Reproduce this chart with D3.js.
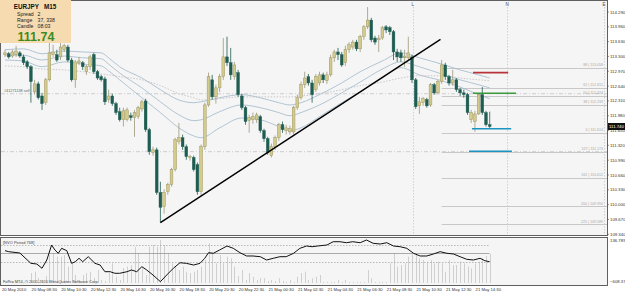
<!DOCTYPE html>
<html>
<head>
<meta charset="utf-8">
<script src="https://cdn.jsdelivr.net/npm/d3@7"></script>
<style>
body { margin: 0; background: #fff; }
svg { display: block; font-family: "Liberation Sans", Arial, sans-serif; }
</style>
</head>
<body>
<div id="chart"></div>
<script>
// EURJPY M15, one candle per row: [open, high, low, close]
const candles = [
[113.34,113.45,113.29,113.38],[113.36,113.40,113.25,113.29],[113.31,113.45,113.27,113.40],[113.34,113.54,113.29,113.42],
[113.38,113.42,113.27,113.31],[113.29,113.34,113.11,113.16],[113.18,113.22,113.02,113.07],[113.07,113.11,112.27,112.74],
[112.51,112.78,112.45,112.69],[112.69,112.74,112.34,112.38],[112.42,112.49,112.11,112.25],[112.27,112.82,112.22,112.78],
[112.78,113.60,112.74,113.38],[113.34,113.56,113.29,113.40],[113.34,113.45,113.18,113.22],[113.29,113.60,113.22,113.51],
[113.45,113.58,113.40,113.54],[113.51,113.56,113.18,113.22],[113.22,113.27,112.74,112.78],[112.78,113.22,112.60,113.18],
[113.16,113.29,113.11,113.20],[113.16,113.20,113.00,113.07],[112.96,113.11,112.89,113.07],[113.07,113.34,113.00,113.29],
[113.34,113.38,112.91,112.96],[112.96,113.00,112.78,112.82],[112.85,112.89,112.74,112.78],[112.80,112.85,112.22,112.29],
[112.34,112.56,112.27,112.42],[112.42,112.47,112.20,112.25],[112.25,112.29,112.00,112.05],[112.07,112.16,111.85,111.89],
[111.89,112.16,111.74,112.09],[111.89,112.16,111.85,112.11],[111.98,112.05,111.87,111.94],[111.94,112.11,111.51,112.05],
[111.96,112.20,111.91,112.16],[112.13,112.34,112.07,112.29],[112.31,112.36,111.62,111.67],[111.67,111.71,111.11,111.18],
[111.16,111.29,111.09,111.22],[111.22,111.27,110.22,110.27],[110.27,110.51,109.60,109.94],[109.96,110.34,109.80,110.27],
[110.29,110.49,110.22,110.45],[110.45,110.82,110.40,110.78],[110.78,111.49,110.74,111.45],[111.40,111.82,111.34,111.49],
[111.49,111.56,111.22,111.29],[111.29,111.34,111.00,111.07],[111.05,111.11,110.98,111.07],[111.05,111.09,110.74,110.78],
[110.89,110.94,110.22,110.29],[110.29,111.34,110.20,111.29],[111.29,112.27,111.22,112.22],[112.22,112.94,112.18,112.85],
[112.78,112.89,112.34,112.40],[112.40,112.67,112.25,112.60],[112.60,112.91,112.51,112.85],[112.85,113.71,112.78,113.29],
[113.29,113.74,113.09,113.16],[113.16,113.49,112.78,112.89],[112.85,113.18,112.78,113.11],[112.94,113.00,112.40,112.45],
[112.42,112.47,112.11,112.16],[112.16,112.20,111.78,111.85],[111.87,112.00,111.60,111.94],[111.89,112.05,111.80,111.96],
[111.89,112.05,111.82,112.00],[111.96,112.00,111.60,111.65],[111.65,111.69,111.40,111.47],[111.47,111.51,111.11,111.16],
[111.09,111.36,111.05,111.29],[111.29,111.54,111.22,111.49],[111.49,111.82,111.42,111.78],[111.78,111.85,111.60,111.67],
[111.65,111.78,111.56,111.71],[111.62,111.76,111.56,111.69],[111.62,112.20,111.56,112.16],[112.16,112.45,112.11,112.38],
[112.38,112.74,112.34,112.67],[112.67,112.96,112.60,112.82],[112.85,112.91,112.65,112.71],[112.71,112.78,112.27,112.45],
[112.56,112.91,112.51,112.85],[112.71,112.96,112.65,112.89],[112.89,112.94,112.71,112.78],[112.76,112.96,112.69,112.89],
[112.89,113.34,112.85,113.27],[113.27,113.45,113.18,113.40],[113.40,113.49,113.22,113.34],[113.34,113.40,113.07,113.11],
[113.16,113.54,113.09,113.45],[113.45,113.62,113.38,113.56],[113.51,113.67,113.45,113.62],[113.62,113.67,113.42,113.47],
[113.47,113.78,113.40,113.74],[113.74,114.00,113.67,113.96],[113.96,114.40,113.91,114.11],[114.11,114.16,113.62,113.67],
[113.71,113.76,113.56,113.62],[113.67,113.78,113.40,113.71],[113.71,113.98,113.67,113.94],[113.96,114.00,113.82,113.89],
[113.94,113.98,113.78,113.85],[113.85,113.89,113.22,113.40],[113.40,113.47,113.18,113.29],[113.38,113.45,113.18,113.27],
[113.27,113.45,113.07,113.31],[113.27,113.74,113.22,113.38],[113.29,113.34,112.71,112.78],[112.78,112.82,112.13,112.18],
[112.20,112.40,112.02,112.29],[112.27,112.40,112.20,112.36],[112.34,112.38,112.16,112.20],[112.22,112.71,112.18,112.67],
[112.67,112.71,112.45,112.49],[112.49,112.78,112.45,112.74],[112.74,113.22,112.69,113.11],[113.11,113.16,112.78,112.85],
[112.85,112.89,112.65,112.71],[112.71,113.00,112.65,112.78],[112.78,112.82,112.51,112.56],[112.56,112.60,112.42,112.49],
[112.49,112.56,112.38,112.45],[112.45,112.49,112.00,112.05],[111.89,112.11,111.82,112.05],[111.85,112.09,111.62,112.02],
[112.02,112.49,112.00,112.45],[112.45,112.62,112.00,112.05],[112.05,112.09,111.74,111.78],[111.78,112.07,111.71,111.74]
]

// moving average envelope, read at these bar indexes
const maIdx = [0,5,10,16,21,26,28,31,37,42,47,51,53,58,64,69,74,77,80,85,91,96,102,107,112,118,123,128,131]
const maUpper = [113.45,113.47,113.36,113.42,113.40,113.38,113.27,113.07,112.82,112.56,112.33,112.27,112.29,112.38,112.45,112.38,112.27,112.22,112.27,112.45,112.71,112.96,113.20,113.38,113.27,113.13,113.00,112.89,112.82]
const maMid = [113.33,113.33,113.22,113.31,113.27,113.25,113.13,112.93,112.60,112.29,112.00,111.87,111.89,112.07,112.22,112.16,112.05,111.98,112.05,112.22,112.49,112.73,113.02,113.18,113.07,112.91,112.78,112.67,112.60]
const maLow = [113.22,113.20,113.07,113.18,113.13,113.09,112.98,112.78,112.38,112.05,111.71,111.53,111.49,111.71,111.93,111.89,111.74,111.65,111.71,111.96,112.27,112.51,112.82,113.05,112.89,112.76,112.62,112.45,112.36]
const maSlow = [113.09,113.07,113.02,113.00,112.96,112.91,112.89,112.85,112.78,112.65,112.47,112.38,112.33,112.36,112.40,112.40,112.40,112.40,112.42,112.47,112.56,112.65,112.73,112.82,112.87,112.87,112.82,112.78,112.76]

// NVO indicator line [bar, value] and histogram per bar
const nvoLine = [[0,-61],[1,-78],[4,-100],[7,-275],[8.6,-287],[10,-359],[11.3,-219],[12.6,35],[13.5,-50],[14.4,-105],
[15.3,-21],[16.7,-61],[18,-275],[19,-248],[20,-190],[21,-248],[22.5,-163],[24.3,-275],[25.7,-304],[27,-417],[28.4,-417],
[29.7,-444],[31,-444],[33,-417],[34.2,-388],[35.6,-417],[37,-332],[38.3,-388],[40,-473],[42,-586],[43.7,-473],[45.5,-359],
[47.3,-265],[49,-275],[51,-304],[52.7,-275],[54,-190],[55,-95],[56.3,-105],[58,-50],[60,18],[61.7,-21],[63.5,-95],
[65.3,-151],[67,-151],[69,-163],[70.7,-219],[72.5,-190],[74.3,-163],[76,-163],[78,-105],[79.7,-21],[81.5,18],[83,6],
[84.5,18],[87,35],[88.7,91],[90.5,91],[92.3,74],[94,91],[96,74],[97.7,120],[99.5,64],[101.4,52],[103.2,74],[105,18],
[106.8,6],[108.6,-21],[110.4,-105],[112.2,-151],[114,-151],[115.8,-117],[117.6,-78],[119.4,-105],[121.2,-117],[123,-163],
[124.8,-207],[126.6,-219],[128.4,-190],[129.7,-231],[131,-248]]
const nvoHist = [-591,-591,-591,-591,-591,-591,-574,-439,-417,-524,-557,-490,-134,-100,-163,-163,-134,-332,-275,-473,
-557,-473,-439,-417,-524,-388,-557,-574,-439,-275,-502,-557,-354,-332,-304,6,-105,-359,-473,6,35,6,120,35,-105,-275,
-332,-388,-332,-417,-439,-417,-388,-332,-219,64,-105,-275,-134,-275,-163,-190,-332,-490,-388,-557,-439,-502,-557,-524,
-529,-574,-557,-574,-529,-574,-591,-557,-591,-502,-439,-417,-557,-529,-502,-473,-591,-591,-591,-591,-557,-591,-557,-591,
-591,-591,-591,-591,-388,-529,-591,-591,-591,-591,-275,-105,-332,-304,-275,-163,-117,-134,-190,-219,-248,-219,-275,-248,
-275,-417,-219,-304,-304,-248,-275,-332,-359,-275,-248,-190,-151,-117]
const nvoLevels = [35, -105, -258]
const nvoRange = [-608.37, 136.789]

const priceTicks = [114.29,113.96,113.63,113.30,112.97,112.64,112.31,111.98,111.65,111.32,110.99,110.66,110.33,110.00,109.67,109.34]
const timeLabels = ['20 May 2010','20 May 08:30','20 May 10:30','20 May 12:30','20 May 14:30','20 May 16:30','20 May 18:30',
  '20 May 20:30','20 May 22:30','21 May 00:30','21 May 02:30','21 May 04:30','21 May 06:30','21 May 08:30','21 May 10:30',
  '21 May 12:30','21 May 14:30']

const fibLabels = ['88 | 113.058','62 | 112.615','50 | 112.424','38 | 112.233','0 | 111.614','127 | 111.173','162 | 110.612','200 | 109.994','225 | 109.589']
const fibPrices = [113.05,112.60,112.42,112.22,111.60,111.18,110.60,109.96,109.56]
const fibStart = 118

// short trade level lines: [fromBar, toBar, price]
const redLine = [126.5, 136, 112.94]
const greenLine = [126.5, 138.1, 112.48]
const blueLines = [[126.2, 136.8, 111.69], [125.4, 137, 111.19]]
const orderLines = [112.47, 111.18]
const vLines = [['L', 110.3], ['N', 135.7], ['E', 161.9]]
const trend = [[42, 109.60], [117.7, 113.68]]
const lastPrice = 111.74

const W = 625
const H = 293
const plotR = 607
const mainB = 235
const subT = 237
const subB = 285

const bodySel = d3.select('#chart')
const xBar = d3.scaleLinear().domain([0, 131]).range([5, 5 + 131 * 3.7])
const yPrice = d3.scaleLinear().domain([109.34, 114.29]).range([234.3, 12])
const yNvo = d3.scaleLinear().domain(nvoRange).range([283, 239])

const svg = bodySel.append('svg').attr('width', W).attr('height', H)

// panels
svg.append('rect').attr('x', 0.5).attr('y', 0.5).attr('width', plotR).attr('height', mainB)
	.attr('fill', '#f5f5f5').attr('stroke', '#606060')
svg.append('rect').attr('x', 0.5).attr('y', subT + 0.5).attr('width', plotR).attr('height', subB - subT)
	.attr('fill', '#f5f5f5').attr('stroke', '#606060')

const main = svg.append('g').attr('class', 'main')

// order lines across the chart
main.selectAll('.order').data(orderLines).enter().append('line')
	.attr('x1', 1).attr('x2', plotR)
	.attr('y1', d => yPrice(d)).attr('y2', d => yPrice(d))
	.attr('stroke', '#c4c4c4').attr('stroke-width', 0.8).attr('stroke-dasharray', '4,2,1,2')
main.append('text').attr('x', 4).attr('y', yPrice(orderLines[0]) - 1.5)
	.attr('font-size', 3.8).attr('fill', '#666').text('#41271138 sell')

// vertical period separators
main.selectAll('.vl').data(vLines).enter().append('line')
	.attr('x1', d => Math.round(xBar(d[1])) + 0.5).attr('x2', d => Math.round(xBar(d[1])) + 0.5)
	.attr('y1', 7).attr('y2', mainB)
	.attr('stroke', '#c8c8c8').attr('stroke-width', 0.8).attr('stroke-dasharray', '1.5,1.5')
main.selectAll('.vlt').data(vLines).enter().append('text')
	.attr('x', d => xBar(d[1]) - 1.5).attr('y', 6).attr('font-size', 4.5).attr('fill', '#444').text(d => d[0])

// fibonacci levels
fibPrices.forEach((p, k) => {
	main.append('line').attr('x1', xBar(fibStart)).attr('x2', plotR)
		.attr('y1', Math.round(yPrice(p)) + 0.5).attr('y2', Math.round(yPrice(p)) + 0.5)
		.attr('stroke', '#c8c8c8').attr('stroke-width', 1)
	main.append('text').attr('x', 603).attr('y', yPrice(p) - 1.5).attr('text-anchor', 'end')
		.attr('font-size', 3.6).attr('fill', '#a8a8a8').text(fibLabels[k])
})

// moving averages
const maLine = arr => d3.line().curve(d3.curveMonotoneX)
	.x((d, k) => xBar(maIdx[k])).y(d => yPrice(d))(arr)
;[maUpper, maMid, maLow].forEach(arr => {
	main.append('path').attr('d', maLine(arr)).attr('fill', 'none')
		.attr('stroke', '#9fb7c9').attr('stroke-width', 0.8)
})
main.append('path').attr('d', maLine(maSlow)).attr('fill', 'none')
	.attr('stroke', '#bdbdbd').attr('stroke-width', 0.8).attr('stroke-dasharray', '1.5,1.5')

// candles
const cg = main.selectAll('.candle').data(candles).enter().append('g').attr('class', 'candle')
cg.append('line')
	.attr('x1', (d, i) => xBar(i)).attr('x2', (d, i) => xBar(i))
	.attr('y1', d => yPrice(d[1])).attr('y2', d => yPrice(d[2]))
	.attr('stroke', d => d[3] >= d[0] ? '#9c9878' : '#1f5d52').attr('stroke-width', 0.8)
cg.append('rect')
	.attr('x', (d, i) => xBar(i) - 1.4).attr('width', 2.8)
	.attr('y', d => yPrice(Math.max(d[0], d[3])))
	.attr('height', d => Math.max(0.8, Math.abs(yPrice(d[0]) - yPrice(d[3]))))
	.attr('fill', d => d[3] >= d[0] ? '#d3ca8c' : '#1f5d52')
	.attr('stroke', d => d[3] >= d[0] ? '#928b58' : '#1f5d52').attr('stroke-width', 0.4)

// trendline
main.append('line')
	.attr('x1', xBar(trend[0][0])).attr('y1', yPrice(trend[0][1]))
	.attr('x2', xBar(trend[1][0])).attr('y2', yPrice(trend[1][1]))
	.attr('stroke', '#000').attr('stroke-width', 1.4)

// trade level lines
const seg = (d, color) => main.append('line')
	.attr('x1', xBar(d[0])).attr('x2', xBar(d[1]))
	.attr('y1', yPrice(d[2])).attr('y2', yPrice(d[2]))
	.attr('stroke', color).attr('stroke-width', 1.6)
seg(redLine, '#b8343a')
seg(greenLine, '#3b9a3b')
blueLines.forEach(d => seg(d, '#1b94c4'))

// info box
const box = svg.append('g')
box.append('rect').attr('x', 0).attr('y', 0).attr('width', 71).attr('height', 43).attr('fill', '#f6dbb0')
box.append('text').attr('x', 35).attr('y', 8.5).attr('text-anchor', 'middle').attr('font-size', 6.3)
	.attr('font-weight', 'bold').attr('fill', '#111').attr('xml:space', 'preserve').text('EURJPY   M15')
const info = [['Spread', '2'], ['Range', '37, 338'], ['Candle', '08:03']]
info.forEach((d, k) => {
	box.append('text').attr('x', 17).attr('y', 16.3 + k * 6).attr('font-size', 5.2).attr('fill', '#222').text(d[0])
	box.append('text').attr('x', 37.5).attr('y', 16.3 + k * 6).attr('font-size', 5.2).attr('fill', '#222').text(d[1])
})
box.append('text').attr('x', 36).attr('y', 40.5).attr('text-anchor', 'middle').attr('font-size', 12.5)
	.attr('font-weight', 'bold').attr('fill', '#3b8b22').text(lastPrice.toFixed(2))

// price axis
const axisG = svg.append('g')
axisG.selectAll('.tick').data(priceTicks).enter().append('line')
	.attr('x1', plotR).attr('x2', plotR + 2).attr('y1', d => yPrice(d)).attr('y2', d => yPrice(d))
	.attr('stroke', '#555').attr('stroke-width', 0.6)
axisG.selectAll('.lab').data(priceTicks).enter().append('text')
	.attr('x', 610).attr('y', d => yPrice(d) + 1.5).attr('font-size', 4.3).attr('fill', '#333')
	.text(d => d3.format('.3f')(d))
axisG.append('rect').attr('x', 608).attr('y', yPrice(lastPrice) - 3.5).attr('width', 17).attr('height', 7).attr('fill', '#111')
axisG.append('text').attr('x', 609).attr('y', yPrice(lastPrice) + 1.6).attr('font-size', 4.3).attr('fill', '#fff')
	.text(lastPrice.toFixed(3))

// NVO sub window
const sub = svg.append('g')
sub.selectAll('.hist').data(nvoHist).enter().append('line')
	.attr('x1', (d, i) => Math.round(xBar(i)) + 0.5).attr('x2', (d, i) => Math.round(xBar(i)) + 0.5)
	.attr('y1', yNvo(nvoRange[0])).attr('y2', d => yNvo(d))
	.attr('stroke', '#cfcfcf').attr('stroke-width', 1)
nvoLevels.forEach((v, k) => {
	sub.append('line').attr('x1', 1).attr('x2', xBar(131))
		.attr('y1', Math.round(yNvo(v)) + 0.5).attr('y2', Math.round(yNvo(v)) + 0.5)
		.attr('stroke', k === 1 ? '#8a8a8a' : '#a0a0a0').attr('stroke-width', 0.7)
		.attr('stroke-dasharray', k === 1 ? null : '1.5,1.5')
})
sub.append('path')
	.attr('d', d3.line().x(d => xBar(d[0])).y(d => yNvo(d[1]))(nvoLine))
	.attr('fill', 'none').attr('stroke', '#111').attr('stroke-width', 1)
sub.append('text').attr('x', 3).attr('y', 243.5).attr('font-size', 4).attr('fill', '#444').text('[NVO Period 768]')
sub.append('text').attr('x', 3).attr('y', 282.5).attr('font-size', 4).attr('fill', '#444')
	.text('FxPro MT4, © 2001-2010 MetaQuotes Software Corp.')
sub.append('text').attr('x', 610).attr('y', 241.5).attr('font-size', 4.3).attr('fill', '#333').text(d3.format('.3f')(nvoRange[1]))
sub.append('text').attr('x', 610).attr('y', 283).attr('font-size', 4.3).attr('fill', '#333').text(d3.format('.2f')(nvoRange[0]))

// time labels, every 8 bars
svg.selectAll('.time').data(timeLabels).enter().append('text')
	.attr('x', (d, k) => xBar(k * 8) - 3).attr('y', 291)
	.attr('font-size', 4.2).attr('fill', '#333').text(d => d)
</script>
</body>
</html>
